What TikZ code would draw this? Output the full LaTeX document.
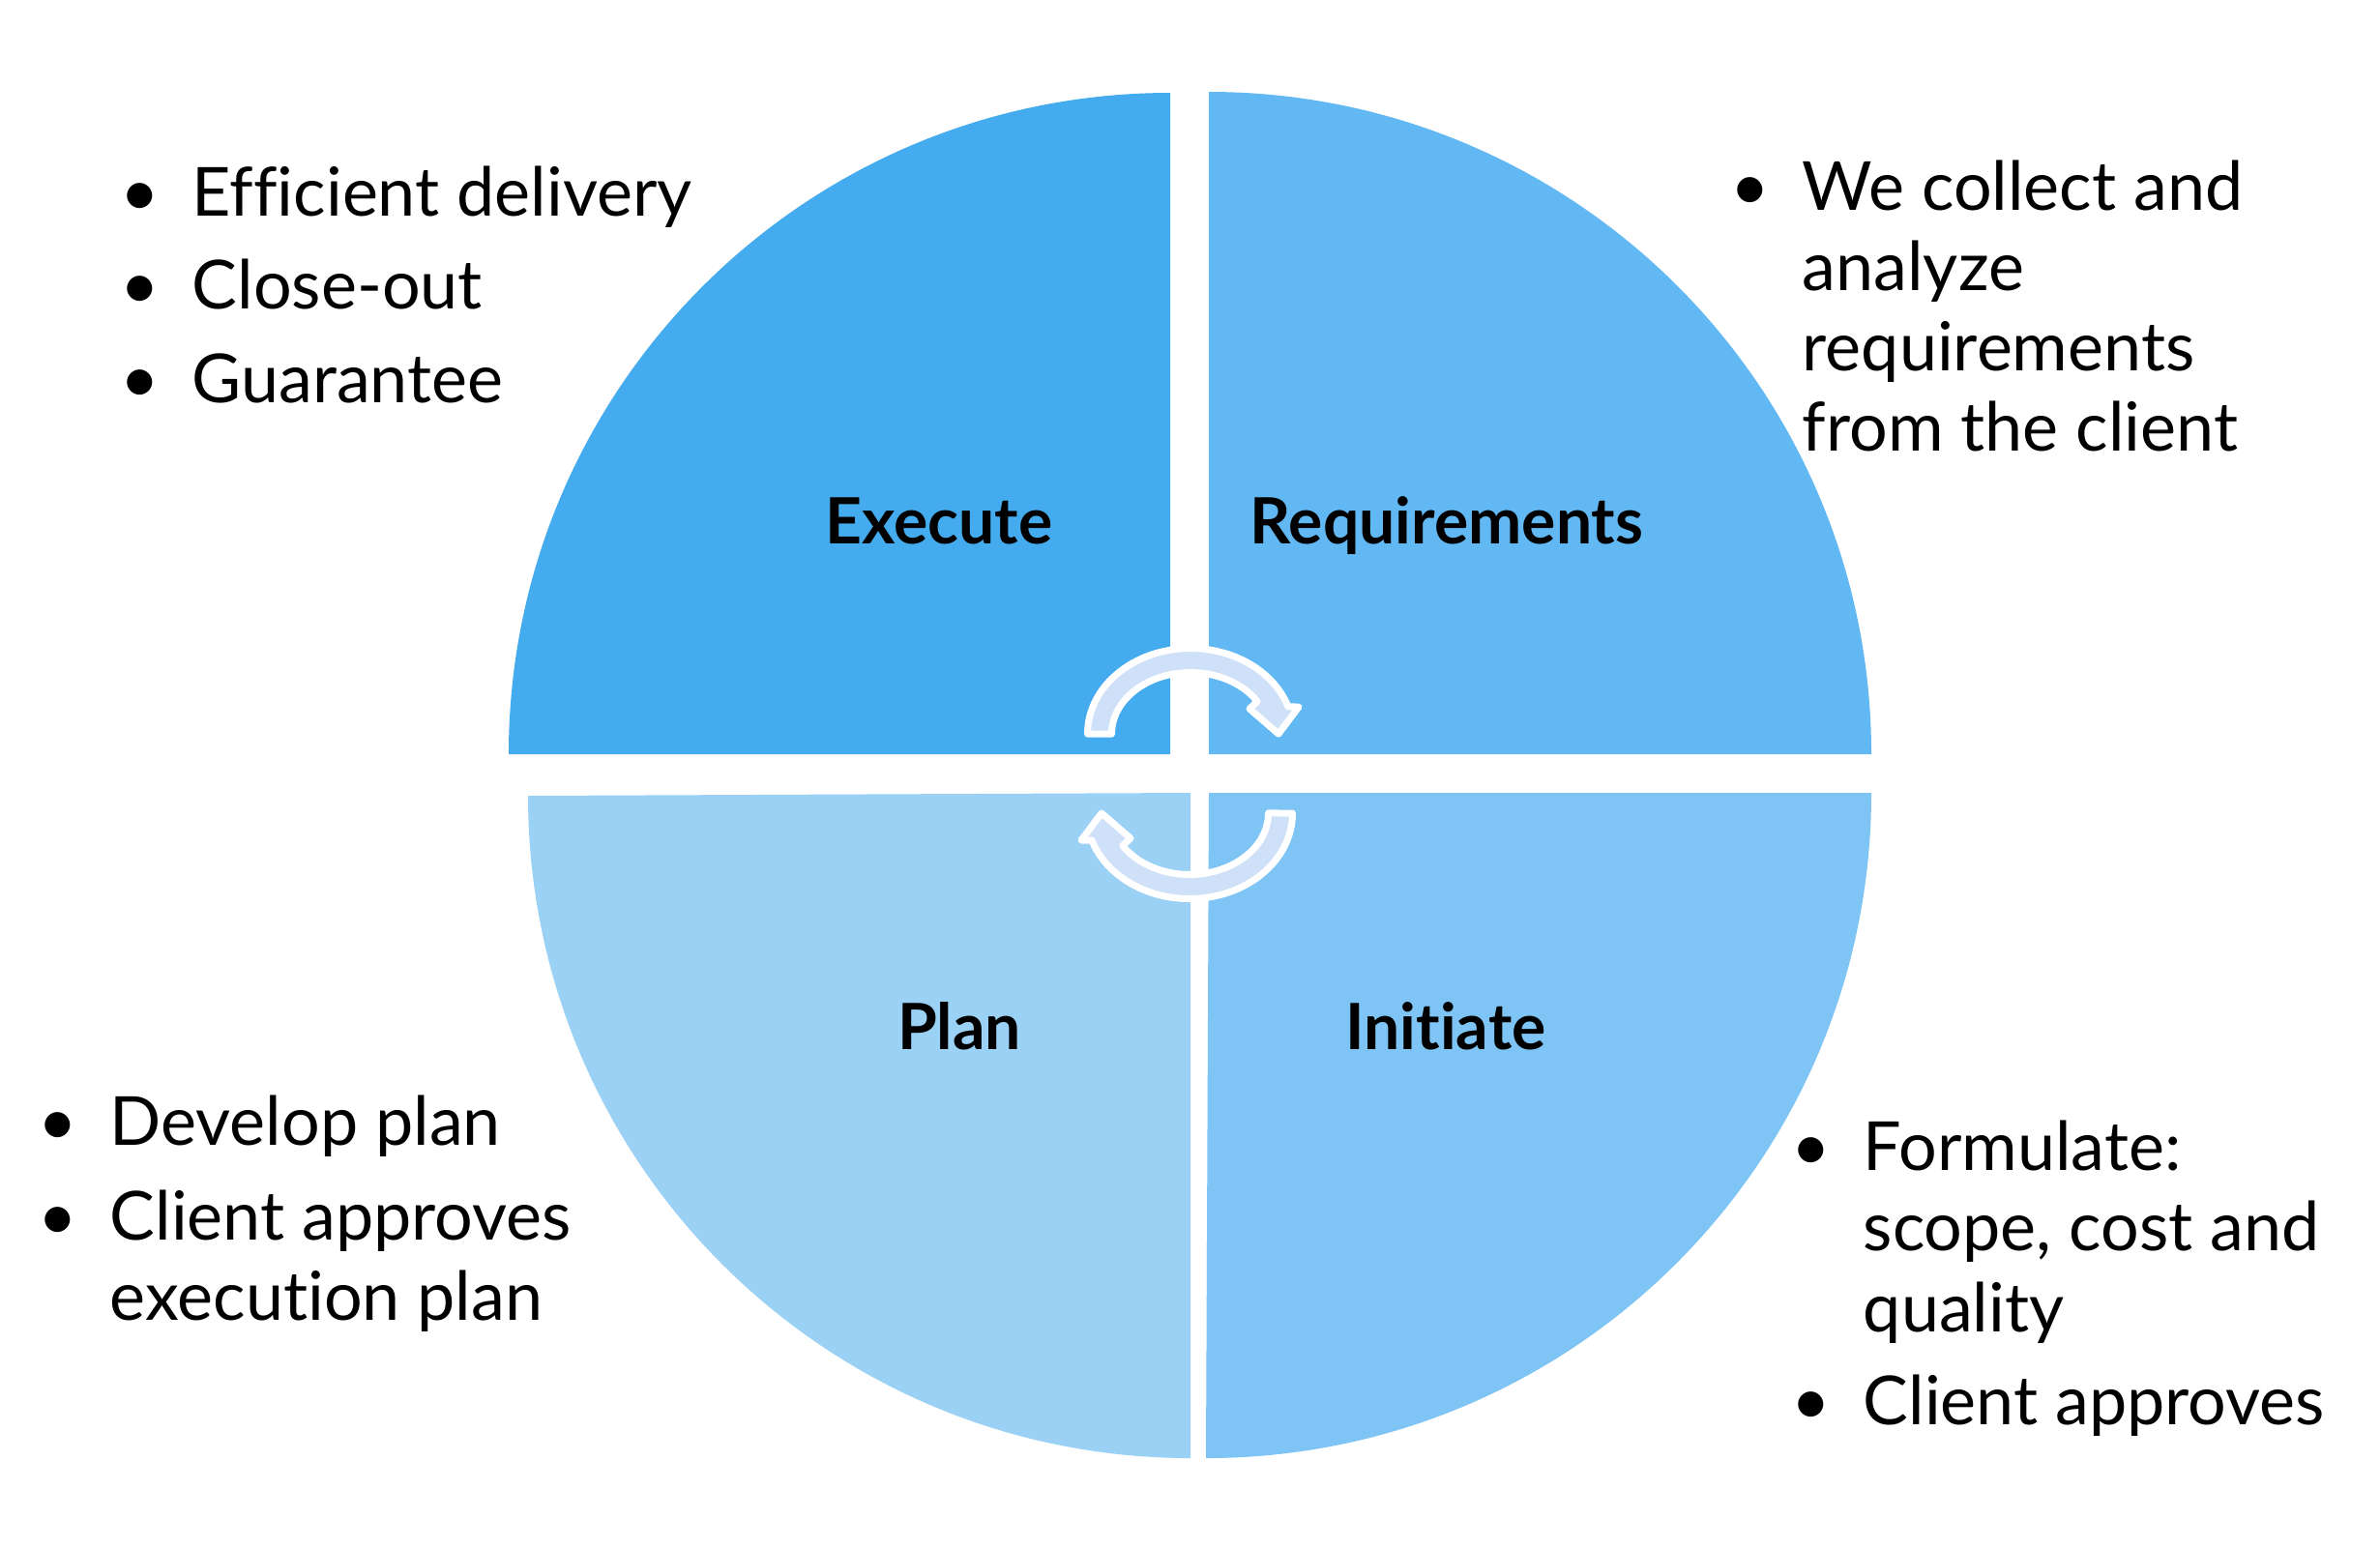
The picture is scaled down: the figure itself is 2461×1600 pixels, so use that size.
\documentclass[tikz,border=0pt]{standalone}
\usepackage{fontspec}
\setmainfont{Lato}[Ligatures=NoCommon]
\definecolor{cExec}{HTML}{44ACEE}
\definecolor{cReq}{HTML}{61B8F2}
\definecolor{cInit}{HTML}{7EC4F4}
\definecolor{cPlan}{HTML}{9BD1F5}
\definecolor{arrowfill}{HTML}{CFE1F8}
\newcommand\bul{\llap{\makebox[27pt]{\textbullet}}}
\begin{document}
\begin{tikzpicture}[x=0.25pt,y=-0.25pt,
  arw/.style={fill=arrowfill,draw=white,line width=1.75pt,line join=round},
  bodytxt/.style={anchor=base west,inner sep=0pt,font=\fontsize{17.5}{21}\selectfont},
  lbl/.style={anchor=base,inner sep=0pt,font=\fontsize{16.5}{20}\selectfont\bfseries}]
\useasboundingbox (0,0) rectangle (2461,1600);
\fill[white] (0,0) rectangle (2461,1600);
% quadrants
\fill[cExec] (1210,780) -- (526,780) arc[start angle=180,end angle=270,radius=684] -- cycle;
\fill[cReq]  (1250,780) -- (1250,95) arc[start angle=270,end angle=360,radius=685] -- cycle;
\fill[cInit] (1250,820) -- (1935,820) arc[start angle=0,end angle=90,radius=688] -- cycle;
\fill[cPlan] (1231,820) -- (1231,1508) arc[start angle=90,end angle=180,radius=685] -- cycle;
% circular arrows
\draw[arw] (1124.5,759) arc[start angle=180,end angle=341.5,x radius=106.5,y radius=88.5]
  -- (1343,731) -- (1322,759) -- (1292,733) -- (1300.1,725.4)
  arc[start angle=328,end angle=180,x radius=81.5,y radius=63.5] -- cycle;
\begin{scope}[rotate around={180:(1230.5,800)}]
\draw[arw] (1124.5,759) arc[start angle=180,end angle=341.5,x radius=106.5,y radius=88.5]
  -- (1343,731) -- (1322,759) -- (1292,733) -- (1300.1,725.4)
  arc[start angle=328,end angle=180,x radius=81.5,y radius=63.5] -- cycle;
\end{scope}
% labels
\node[lbl] (exec) at (971,562) {Execute};
\node[lbl] (req)  at (1496,562) {Requirements};
\node[lbl] (plan) at (992,1085) {Plan};
\node[lbl] (init) at (1495,1085) {Initiate};
% top-left text
\node[bodytxt] (tl1) at (198,223) {\bul Efficient delivery};
\node[bodytxt] (tl2) at (198,319) {\bul Close-out};
\node[bodytxt] (tl3) at (198,416) {\bul Guarantee};
% top-right text
\node[bodytxt] (tr1) at (1863,217) {\bul We collect and};
\node[bodytxt] (tr2) at (1863,300) {analyze};
\node[bodytxt] (tr3) at (1863,383) {requirements};
\node[bodytxt] (tr4) at (1863,466) {from the client};
% bottom-left text
\node[bodytxt] (bl1) at (113,1184) {\bul Develop plan};
\node[bodytxt] (bl2) at (113,1282) {\bul Client approves};
\node[bodytxt] (bl3) at (113,1365) {execution plan};
% bottom-right text
\node[bodytxt] (br1) at (1926,1210) {\bul Formulate:};
\node[bodytxt] (br2) at (1926,1293) {scope, cost and};
\node[bodytxt] (br3) at (1926,1377) {quality};
\node[bodytxt] (br4) at (1926,1473) {\bul Client approves};
\end{tikzpicture}
\end{document}
